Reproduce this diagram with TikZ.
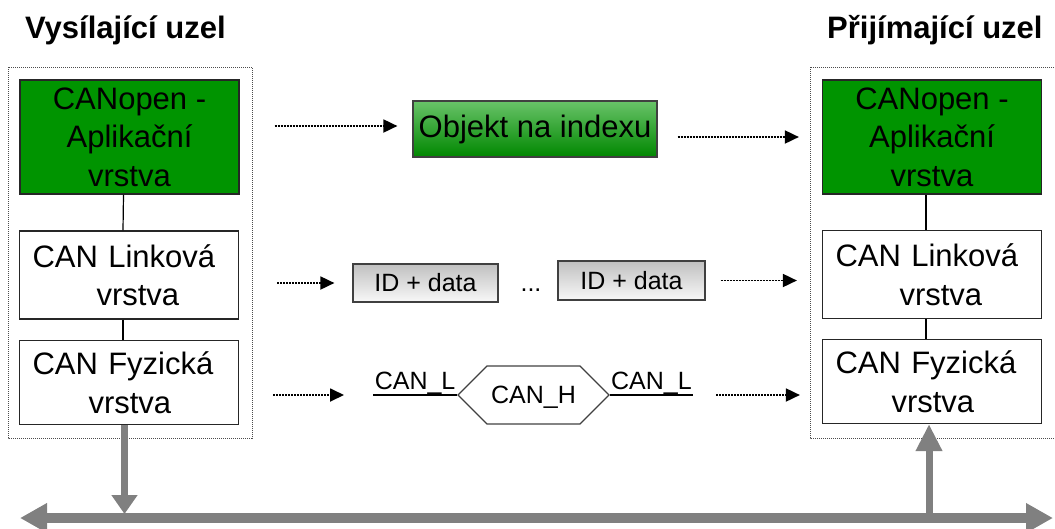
\documentclass[tikz,border=0pt]{standalone}
\usepackage{fontspec}
\setmainfont{Liberation Sans}
\usepackage{tikz}
\usetikzlibrary{positioning,
                arrows.meta,                % arrow tips
                shapes.symbols}             % signal shape for the bus level

\definecolor{cangreen}{RGB}{0,148,0}
\definecolor{objtop}{RGB}{105,195,105}
\definecolor{objbottom}{RGB}{0,135,0}
\definecolor{idtop}{RGB}{192,192,192}
\definecolor{idbottom}{RGB}{248,248,248}
\definecolor{busgray}{RGB}{128,128,128}

\newcommand{\layerfont}{\fontsize{31}{38.5}\selectfont}
\newcommand{\framefont}{\fontsize{25}{30}\selectfont}

\tikzset{
        layer/.style={draw=black!85, line width=1.2pt, fill=white,
                minimum width=219pt, inner sep=0pt, font=\layerfont},
        applayer/.style={layer, fill=cangreen, minimum height=114pt, align=center},
        lowlayer/.style={layer, text width=193pt, inner xsep=13pt, align=left},
        nodeframe/.style={draw=black!70, line width=1pt, dash pattern=on 1pt off 1pt},
        flow/.style={line width=1.8pt, dash pattern=on 2pt off 1pt,
                -{Triangle[length=14pt, width=13pt]}},
        idframe/.style={draw=black!75, line width=1.2pt, top color=idtop,
                bottom color=idbottom, font=\framefont, inner sep=0pt},
        bus/.style={busgray, line width=10pt, {Triangle[length=27pt, width=28pt]}-{Triangle[length=27pt, width=28pt]}},
        tap/.style={busgray, line width=7pt}
}

\begin{document}
\begin{tikzpicture}[x=1pt, y=-1pt]
        \useasboundingbox (0,0) rectangle (1055,528);
        \clip (0,0) rectangle (1055,528);

        % the two nodes
        \node[anchor=base west, inner sep=0pt, font=\fontsize{31}{37}\bfseries] (sendtitle) at (25,38) {Vysílající uzel};
        \node[anchor=base west, inner sep=0pt, font=\fontsize{31}{37}\bfseries] (recvtitle) at (827,38) {Přijímající uzel};

        \draw[nodeframe] (8,67) rectangle (252,438);
        \draw[nodeframe] (810,67) rectangle (1070,438);

        \node[applayer] (appL) at (129.5,137) {CANopen -\\Aplikační\\vrstva};
        \node[lowlayer, minimum height=88pt] (linkL) at (129,275) {CAN Linková\\\hspace*{64pt}vrstva};
        \node[lowlayer, minimum height=84pt] (fyzL) at (129,382.5) {CAN Fyzická\\\hspace*{56pt}vrstva};

        \node[applayer] (appR) at (932,137) {CANopen -\\Aplikační\\vrstva};
        \node[lowlayer, minimum height=88pt] (linkR) at (932,274.5) {CAN Linková\\\hspace*{64pt}vrstva};
        \node[lowlayer, minimum height=84pt] (fyzR) at (932,381.5) {CAN Fyzická\\\hspace*{56pt}vrstva};

        \draw[line width=1.2pt] ([xshift=-6pt]appL.south) -- ([xshift=-6pt]linkL.north);
        \draw[line width=1.2pt] ([xshift=-6pt]linkL.south) -- ([xshift=-6pt]fyzL.north);
        \draw[line width=1.2pt] ([xshift=-6pt]appR.south) -- ([xshift=-6pt]linkR.north);
        \draw[line width=1.2pt] ([xshift=-6pt]linkR.south) -- ([xshift=-6pt]fyzR.north);

        % what travels between them
        \node[draw=black!75, line width=1.2pt, top color=objtop, bottom color=objbottom,
                minimum width=244pt, minimum height=56pt, inner sep=0pt, font=\layerfont] (obj) at (535,129) {Objekt na indexu};

        \node[idframe, minimum width=145pt, minimum height=38pt] (id1) at (425.5,283) {ID + data};
        \node[idframe, minimum width=147pt, minimum height=39pt] (id2) at (631.5,280.5) {ID + data};
        \node[anchor=base, inner sep=0pt, font=\framefont] (gap) at (531,291) {...};

        \node[signal, signal to=west and east, draw=black!75, line width=1.2pt,
                minimum width=151pt, minimum height=58pt, inner sep=0pt,
                text depth=0pt, font=\framefont] (canh) at (533.5,395) {CAN\_H};
        \coordinate (lowL) at (373,395);
        \coordinate (lowR) at (693,395);
        \draw[line width=1.2pt] (lowL) -- (canh.west) node[midway, above, inner sep=0pt, font=\framefont] {CAN\_L};
        \draw[line width=1.2pt] (canh.east) -- (lowR) node[midway, above, inner sep=0pt, font=\framefont] {CAN\_L};

        \draw[flow, shorten <=35pt, shorten >=15pt] ([yshift=3pt]appL.east |- obj.west) -- ([yshift=3pt]obj.west);
        \draw[flow, shorten <=20pt, shorten >=23pt] (obj.east |- appR.west) -- (appR.west);
        \draw[flow, shorten <=38pt, shorten >=18pt] (linkL.east |- id1.west) -- (id1.west);
        \draw[flow, shorten <=15pt, shorten >=25pt] (id2.east) -- (id2.east -| linkR.west);
        \draw[flow, shorten <=34pt, shorten >=29pt] (fyzL.east |- lowL) -- (lowL);
        \draw[flow, shorten <=23pt, shorten >=22pt] (lowR) -- (lowR -| fyzR.west);

        % the bus
        \coordinate (busL) at (20,518);
        \coordinate (busR) at (1053,518);
        \draw[bus] (busL) -- (busR);
        \draw[tap, -{Triangle[length=19pt, width=25pt]}, shorten >=4pt]
                ([xshift=-4.5pt]fyzL.south) -- ([xshift=-4.5pt]fyzL.south |- busL);
        \draw[tap, -{Triangle[length=27pt, width=25pt]}, shorten <=4pt]
                ([xshift=-3pt]fyzR.south |- busL) -- ([xshift=-3pt]fyzR.south);

\end{tikzpicture}
\end{document}
